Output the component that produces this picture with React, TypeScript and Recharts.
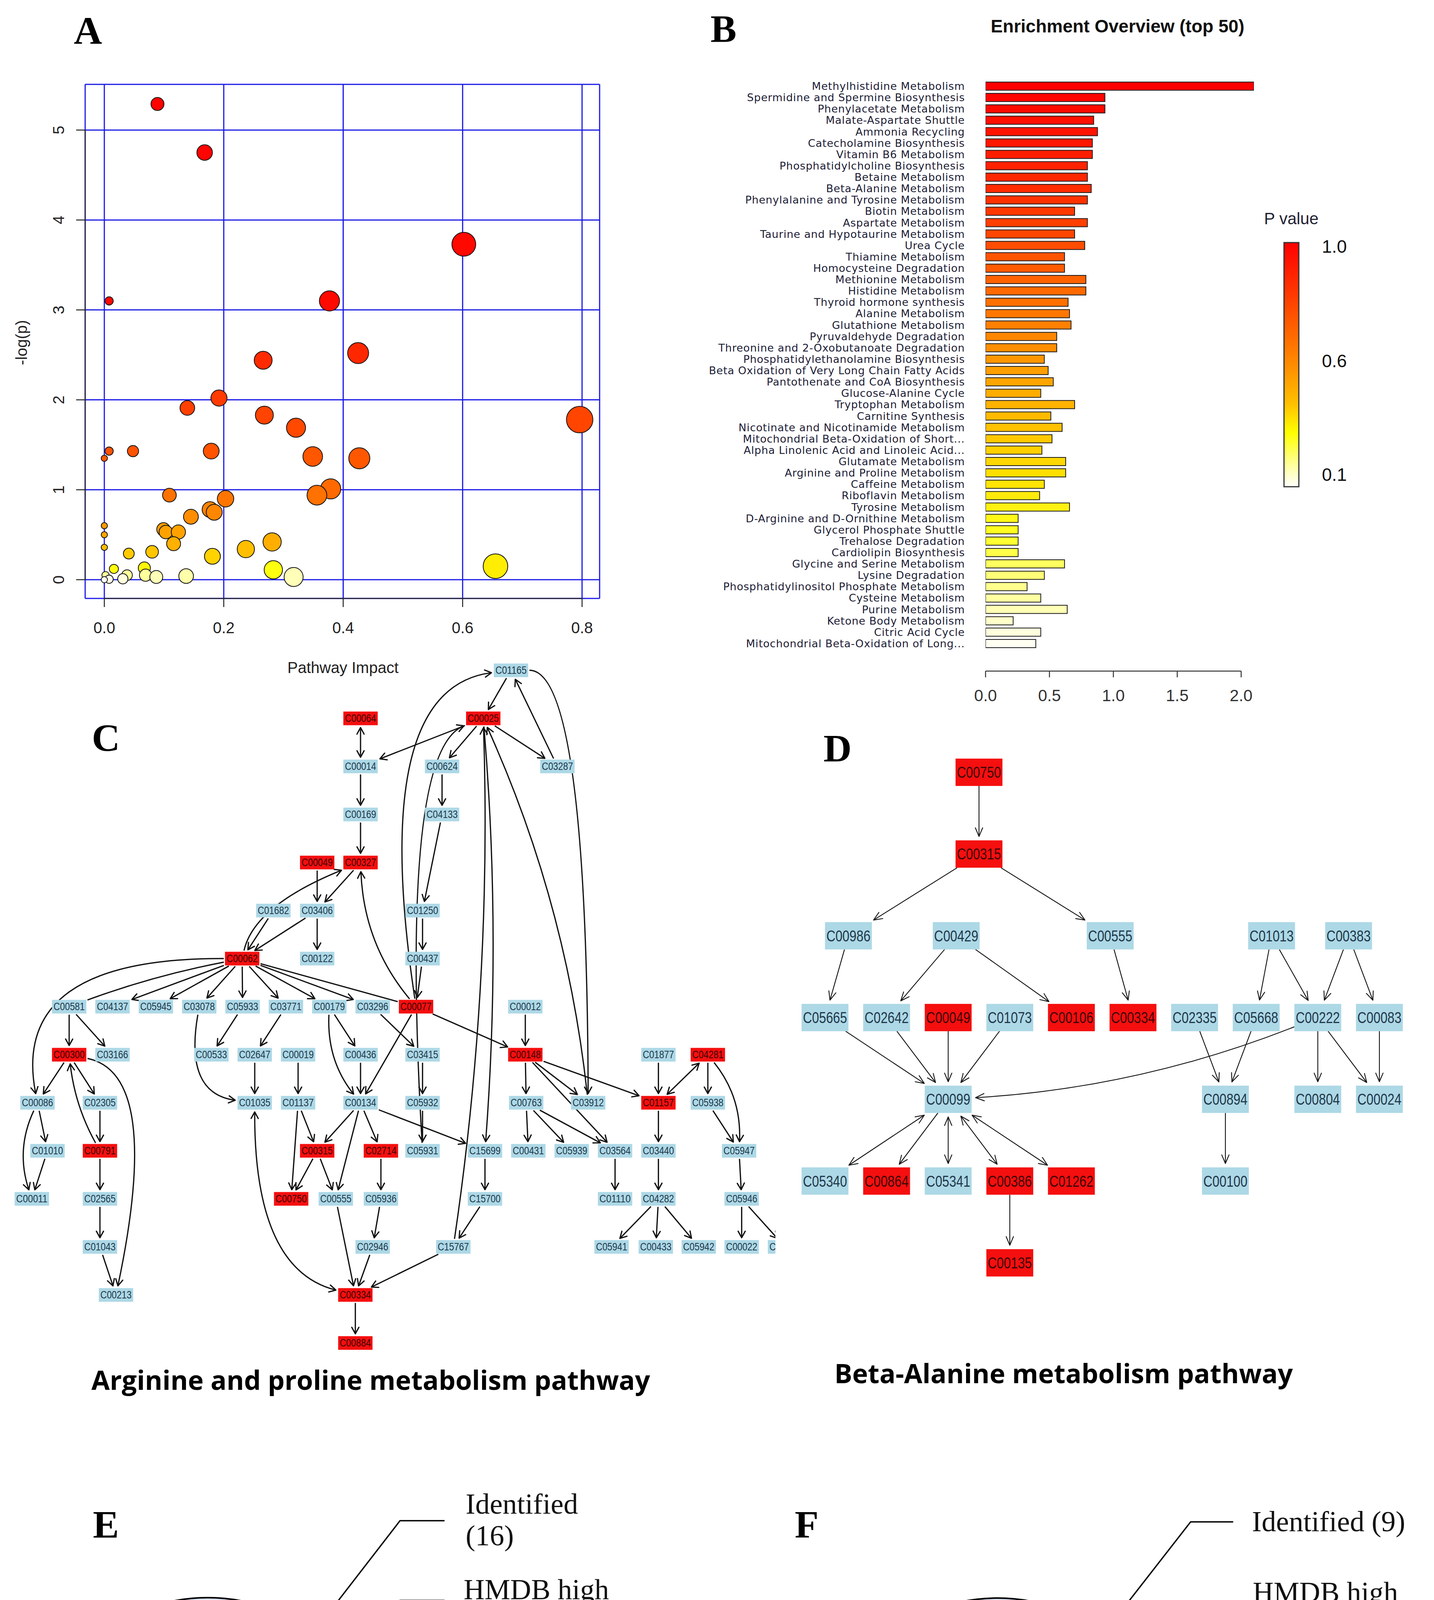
import React from 'react';
import {
  ScatterChart,
  Scatter,
  XAxis,
  YAxis,
  CartesianGrid,
  Cell,
  ReferenceLine,
  BarChart,
  Bar,
  PieChart,
  Pie,
} from 'recharts';

const SANS = '"Liberation Sans", Arial, Helvetica, sans-serif';
const SERIF = '"Liberation Serif", "Times New Roman", serif';
const TITLE = '"Open Sans", "DejaVu Sans", sans-serif';

// ---------- A: pathway impact vs -log(p)
const impact = [0.089, 0.168, 0.602, 0.008, 0.377, 0.266, 0.425, 0.192, 0.139, 0.268,
  0.321, 0.796, 0.008, 0.048, 0.0, 0.179, 0.349, 0.427, 0.379, 0.356,
  0.109, 0.203, 0.177, 0.184, 0.145, 0.099, 0.103, 0.124, 0.116, 0.0,
  0.0, 0.0, 0.281, 0.237, 0.181, 0.041, 0.08, 0.655, 0.283, 0.317,
  0.137, 0.067, 0.069, 0.087, 0.016, 0.038, 0.031, 0.002, 0.008, 0.0];
const logP = [5.29, 4.75, 3.73, 3.1, 3.1, 2.44, 2.52, 2.02, 1.91, 1.83,
  1.69, 1.78, 1.43, 1.43, 1.35, 1.43, 1.37, 1.35, 1.01, 0.94,
  0.94, 0.9, 0.78, 0.75, 0.7, 0.56, 0.53, 0.53, 0.4, 0.6,
  0.5, 0.36, 0.42, 0.34, 0.26, 0.29, 0.31, 0.15, 0.11, 0.03,
  0.04, 0.13, 0.05, 0.03, 0.12, 0.05, 0.01, 0.05, 0.005, 0.0];
const impactTicks = [0, 0.2, 0.4, 0.6, 0.8];
const logPTicks = [0, 1, 2, 3, 4, 5];

// ---------- B: enrichment overview
const pathways = [
  'Methylhistidine Metabolism',
  'Spermidine and Spermine Biosynthesis',
  'Phenylacetate Metabolism',
  'Malate-Aspartate Shuttle',
  'Ammonia Recycling',
  'Catecholamine Biosynthesis',
  'Vitamin B6 Metabolism',
  'Phosphatidylcholine Biosynthesis',
  'Betaine Metabolism',
  'Beta-Alanine Metabolism',
  'Phenylalanine and Tyrosine Metabolism',
  'Biotin Metabolism',
  'Aspartate Metabolism',
  'Taurine and Hypotaurine Metabolism',
  'Urea Cycle',
  'Thiamine Metabolism',
  'Homocysteine Degradation',
  'Methionine Metabolism',
  'Histidine Metabolism',
  'Thyroid hormone synthesis',
  'Alanine Metabolism',
  'Glutathione Metabolism',
  'Pyruvaldehyde Degradation',
  'Threonine and 2-Oxobutanoate Degradation',
  'Phosphatidylethanolamine Biosynthesis',
  'Beta Oxidation of Very Long Chain Fatty Acids',
  'Pantothenate and CoA Biosynthesis',
  'Glucose-Alanine Cycle',
  'Tryptophan Metabolism',
  'Carnitine Synthesis',
  'Nicotinate and Nicotinamide Metabolism',
  'Mitochondrial Beta-Oxidation of Short...',
  'Alpha Linolenic Acid and Linoleic Acid...',
  'Glutamate Metabolism',
  'Arginine and Proline Metabolism',
  'Caffeine Metabolism',
  'Riboflavin Metabolism',
  'Tyrosine Metabolism',
  'D-Arginine and D-Ornithine Metabolism',
  'Glycerol Phosphate Shuttle',
  'Trehalose Degradation',
  'Cardiolipin Biosynthesis',
  'Glycine and Serine Metabolism',
  'Lysine Degradation',
  'Phosphatidylinositol Phosphate Metabolism',
  'Cysteine Metabolism',
  'Purine Metabolism',
  'Ketone Body Metabolism',
  'Citric Acid Cycle',
  'Mitochondrial Beta-Oxidation of Long...',
];
const foldEnrichment = [2.1, 0.934, 0.934, 0.846, 0.876, 0.836, 0.836, 0.797, 0.797, 0.827,
  0.797, 0.697, 0.797, 0.697, 0.776, 0.618, 0.618, 0.785, 0.785, 0.646,
  0.657, 0.669, 0.557, 0.557, 0.46, 0.49, 0.53, 0.432, 0.697, 0.511,
  0.599, 0.52, 0.441, 0.627, 0.627, 0.46, 0.423, 0.657, 0.255, 0.255,
  0.255, 0.255, 0.618, 0.46, 0.325, 0.432, 0.639, 0.216, 0.432, 0.393];
const enrichTicks = [0, 0.5, 1, 1.5, 2];
const pValueTicks = ['1.0', '0.6', '0.1'];

// ---------- C: arginine and proline network  [id, column, level, matched]
const argNodes: [string, number, number, boolean][] = [
  ['C01165', 10.19, 0, false],
  ['C00064', 6.72, 1, true],
  ['C00025', 9.55, 1, true],
  ['C00014', 6.72, 2, false],
  ['C00624', 8.6, 2, false],
  ['C03287', 11.26, 2, false],
  ['C00169', 6.72, 3, false],
  ['C04133', 8.6, 3, false],
  ['C00049', 5.72, 4, true],
  ['C00327', 6.72, 4, true],
  ['C01682', 4.71, 5, false],
  ['C03406', 5.72, 5, false],
  ['C01250', 8.15, 5, false],
  ['C00062', 3.99, 6, true],
  ['C00122', 5.72, 6, false],
  ['C00437', 8.15, 6, false],
  ['C00581', 0, 7, false],
  ['C04137', 1, 7, false],
  ['C05945', 2, 7, false],
  ['C03078', 3, 7, false],
  ['C05933', 4, 7, false],
  ['C03771', 5, 7, false],
  ['C00179', 6, 7, false],
  ['C03296', 7, 7, false],
  ['C00077', 8, 7, true],
  ['C00012', 10.52, 7, false],
  ['C00300', 0, 8, true],
  ['C03166', 1, 8, false],
  ['C00533', 3.28, 8, false],
  ['C02647', 4.28, 8, false],
  ['C00019', 5.28, 8, false],
  ['C00436', 6.72, 8, false],
  ['C03415', 8.15, 8, false],
  ['C00148', 10.52, 8, true],
  ['C01877', 13.59, 8, false],
  ['C04281', 14.73, 8, true],
  ['C00086', -0.73, 9, false],
  ['C02305', 0.71, 9, false],
  ['C01035', 4.28, 9, false],
  ['C01137', 5.28, 9, false],
  ['C00134', 6.72, 9, false],
  ['C05932', 8.15, 9, false],
  ['C00763', 10.54, 9, false],
  ['C03912', 11.97, 9, false],
  ['C01157', 13.59, 9, true],
  ['C05938', 14.73, 9, false],
  ['C01010', -0.5, 10, false],
  ['C00791', 0.71, 10, true],
  ['C00315', 5.72, 10, true],
  ['C02714', 7.19, 10, true],
  ['C05931', 8.15, 10, false],
  ['C15699', 9.59, 10, false],
  ['C00431', 10.59, 10, false],
  ['C05939', 11.59, 10, false],
  ['C03564', 12.59, 10, false],
  ['C03440', 13.59, 10, false],
  ['C05947', 15.45, 10, false],
  ['C00011', -0.86, 11, false],
  ['C02565', 0.71, 11, false],
  ['C00750', 5.12, 11, true],
  ['C00555', 6.15, 11, false],
  ['C05936', 7.19, 11, false],
  ['C15700', 9.59, 11, false],
  ['C01110', 12.59, 11, false],
  ['C04282', 13.59, 11, false],
  ['C05946', 15.51, 11, false],
  ['C01043', 0.71, 12, false],
  ['C02946', 7.0, 12, false],
  ['C15767', 8.86, 12, false],
  ['C05941', 12.51, 12, false],
  ['C00433', 13.53, 12, false],
  ['C05942', 14.52, 12, false],
  ['C00022', 15.51, 12, false],
  ['C05944', 16.51, 12, false],
  ['C00213', 1.08, 13, false],
  ['C00334', 6.6, 13, true],
  ['C00884', 6.6, 14, true],
];

// [from, to, bend, arrows ('>' forward, '<>' both, '-' none), skew]
type EdgeRow = [string, string, number, string, number?];
const argEdges: EdgeRow[] = [
  ['C00064', 'C00014', 0, '<>'],
  ['C00014', 'C00169', 0, '>'],
  ['C00169', 'C00327', 0, '>'],
  ['C00049', 'C03406', 0, '>'],
  ['C00327', 'C03406', 0, '>'],
  ['C00062', 'C00327', -0.22, '>', -0.22],
  ['C01682', 'C00062', 0, '>'],
  ['C03406', 'C00062', 0, '>'],
  ['C03406', 'C00122', 0, '>'],
  ['C00062', 'C00086', 0.54, '>', 0.26],
  ['C00062', 'C00581', 0.04, '-'],
  ['C00062', 'C04137', 0, '>'],
  ['C00062', 'C05945', 0, '>'],
  ['C00062', 'C03078', 0, '>'],
  ['C00062', 'C05933', 0, '>'],
  ['C00062', 'C03771', 0, '>'],
  ['C00062', 'C00179', 0, '>'],
  ['C00062', 'C03296', 0, '>'],
  ['C00062', 'C00077', 0, '-'],
  ['C00581', 'C00300', 0, '>'],
  ['C00581', 'C03166', 0, '>'],
  ['C00300', 'C00086', 0, '>'],
  ['C00300', 'C02305', 0, '>'],
  ['C00791', 'C00300', -0.1, '>'],
  ['C00300', 'C00213', -0.36, '>', -0.35],
  ['C00086', 'C01010', 0, '>'],
  ['C00086', 'C00011', 0.2, '>'],
  ['C01010', 'C00011', 0, '>'],
  ['C02305', 'C00791', 0, '>'],
  ['C00791', 'C02565', 0, '>'],
  ['C02565', 'C01043', 0, '>'],
  ['C01043', 'C00213', 0, '>'],
  ['C05933', 'C00533', 0, '>'],
  ['C03771', 'C02647', 0, '>'],
  ['C03078', 'C01035', 0.51, '>', 0.11],
  ['C02647', 'C01035', 0, '>'],
  ['C00019', 'C01137', 0, '>'],
  ['C00179', 'C00436', 0, '>'],
  ['C00179', 'C00134', 0.19, '>'],
  ['C00436', 'C00134', 0, '>'],
  ['C03296', 'C03415', 0, '>'],
  ['C00077', 'C00134', 0, '>'],
  ['C00077', 'C00327', -0.17, '>'],
  ['C01035', 'C00334', 0.36, '<>', 0.18],
  ['C01137', 'C00315', 0, '>'],
  ['C01137', 'C00750', 0, '>'],
  ['C00134', 'C00315', 0, '>'],
  ['C00134', 'C00555', 0, '>'],
  ['C00134', 'C02714', 0, '>'],
  ['C00134', 'C15699', 0, '>'],
  ['C00315', 'C00750', 0, '>'],
  ['C00315', 'C00555', 0, '>'],
  ['C02714', 'C05936', 0, '>'],
  ['C05936', 'C02946', 0, '>'],
  ['C02946', 'C00334', 0, '>'],
  ['C00555', 'C00334', 0, '>'],
  ['C15767', 'C00334', 0, '>'],
  ['C00334', 'C00884', 0, '>'],
  ['C00025', 'C00014', 0, '>'],
  ['C00025', 'C00624', 0, '>'],
  ['C00025', 'C03287', 0, '>'],
  ['C03287', 'C01165', 0, '>'],
  ['C01165', 'C00025', 0, '>'],
  ['C00624', 'C04133', 0, '>'],
  ['C04133', 'C01250', 0, '>'],
  ['C01250', 'C00437', 0, '>'],
  ['C00437', 'C00077', 0, '>'],
  ['C00077', 'C01165', -0.38, '>', 0.34],
  ['C05931', 'C00025', -0.18, '>', 0.4],
  ['C00025', 'C15699', -0.04, '>'],
  ['C15767', 'C00025', 0.045, '>'],
  ['C03912', 'C00025', 0.08, '>'],
  ['C01165', 'C03912', -0.17, '>', -0.47],
  ['C03415', 'C05932', 0, '>'],
  ['C05932', 'C05931', 0, '>'],
  ['C15699', 'C15700', 0, '>'],
  ['C15700', 'C15767', 0, '>'],
  ['C00077', 'C00148', 0, '>'],
  ['C00012', 'C00148', 0, '>'],
  ['C00148', 'C00763', 0, '>'],
  ['C00148', 'C03912', 0, '>'],
  ['C00148', 'C01157', 0, '>'],
  ['C00148', 'C03564', 0, '>'],
  ['C00763', 'C03564', 0, '>'],
  ['C00763', 'C00431', 0, '>'],
  ['C00763', 'C05939', 0, '>'],
  ['C03564', 'C01110', 0, '>'],
  ['C01877', 'C01157', 0, '>'],
  ['C04281', 'C01157', 0, '<>'],
  ['C04281', 'C05938', 0, '>'],
  ['C04281', 'C05947', -0.19, '>'],
  ['C05938', 'C05947', 0, '>'],
  ['C01157', 'C03440', 0, '>'],
  ['C03440', 'C04282', 0, '>'],
  ['C04282', 'C05941', 0, '>'],
  ['C04282', 'C00433', 0, '>'],
  ['C04282', 'C05942', 0, '>'],
  ['C05947', 'C05946', 0, '>'],
  ['C05946', 'C00022', 0, '>'],
  ['C05946', 'C05944', 0, '>'],
];

// ---------- D: beta-alanine network
const alaNodes: [string, number, number, boolean][] = [
  ['C00750', 2.5, 0, true],
  ['C00315', 2.5, 1, true],
  ['C00986', 0.38, 2, false],
  ['C00429', 2.13, 2, false],
  ['C00555', 4.63, 2, false],
  ['C01013', 7.25, 2, false],
  ['C00383', 8.5, 2, false],
  ['C05665', 0, 3, false],
  ['C02642', 1, 3, false],
  ['C00049', 2, 3, true],
  ['C01073', 3, 3, false],
  ['C00106', 4, 3, true],
  ['C00334', 5, 3, true],
  ['C02335', 6, 3, false],
  ['C05668', 7, 3, false],
  ['C00222', 8, 3, false],
  ['C00083', 9, 3, false],
  ['C00099', 2, 4, false],
  ['C00894', 6.5, 4, false],
  ['C00804', 8, 4, false],
  ['C00024', 9, 4, false],
  ['C05340', 0, 5, false],
  ['C00864', 1, 5, true],
  ['C05341', 2, 5, false],
  ['C00386', 3, 5, true],
  ['C01262', 4, 5, true],
  ['C00100', 6.5, 5, false],
  ['C00135', 3, 6, true],
];

const alaEdges: EdgeRow[] = [
  ['C00750', 'C00315', 0, '>'],
  ['C00315', 'C00986', 0, '>'],
  ['C00315', 'C00555', 0, '>'],
  ['C00986', 'C05665', 0, '>'],
  ['C00429', 'C02642', 0, '>'],
  ['C00429', 'C00106', 0, '>'],
  ['C00555', 'C00334', 0, '>'],
  ['C01013', 'C05668', 0, '>'],
  ['C01013', 'C00222', 0, '>'],
  ['C00383', 'C00222', 0, '>'],
  ['C00383', 'C00083', 0, '>'],
  ['C05665', 'C00099', 0, '>'],
  ['C02642', 'C00099', 0, '>'],
  ['C00049', 'C00099', 0, '>'],
  ['C01073', 'C00099', 0, '>'],
  ['C00222', 'C00099', -0.08, '>'],
  ['C02335', 'C00894', 0, '>'],
  ['C05668', 'C00894', 0, '>'],
  ['C00222', 'C00804', 0, '>'],
  ['C00222', 'C00024', 0, '>'],
  ['C00083', 'C00024', 0, '>'],
  ['C00894', 'C00100', 0, '>'],
  ['C00099', 'C05340', 0, '<>'],
  ['C00099', 'C00864', 0, '>'],
  ['C00099', 'C05341', 0, '<>'],
  ['C00099', 'C00386', 0, '<>'],
  ['C00099', 'C01262', 0, '<>'],
  ['C00386', 'C00135', 0, '>'],
];

// ---------- E / F: nested metabolite sets
const ringNames = ['KEGG pathway', 'High &low HMDB', 'HMDB high', 'Identified'];
const argCounts = [77, 71, 25, 16];
const alaCounts = [29, 25, 15, 9];

// ---------- colour helpers
const hexRgb = (h: string) => [1, 3, 5].map((k) => parseInt(h.slice(k, k + 2), 16));
const ramp = (stops: [number, string][], v: number) => {
  if (v <= stops[0][0]) return stops[0][1];
  for (let i = 1; i < stops.length; i++) {
    if (v <= stops[i][0]) {
      const t = (v - stops[i - 1][0]) / (stops[i][0] - stops[i - 1][0]);
      const a = hexRgb(stops[i - 1][1]);
      const b = hexRgb(stops[i][1]);
      return `rgb(${a.map((c, k) => Math.round(c + (b[k] - c) * t)).join(',')})`;
    }
  }
  return stops[stops.length - 1][1];
};
const heatByLogP: [number, string][] = [
  [0, '#fffff2'], [0.03, '#ffffb8'], [0.07, '#ffff80'], [0.11, '#ffff10'], [0.16, '#ffe800'],
  [0.27, '#ffd000'], [0.4, '#ffb000'], [0.6, '#ff9a00'], [0.8, '#ff8000'], [1.0, '#ff6a00'],
  [1.4, '#ff5400'], [1.9, '#ff4000'], [2.5, '#ff2800'], [3.1, '#ff0a00'], [6, '#ff0000'],
];
const heatByRank: [number, string][] = [
  [0, '#ff0000'], [0.2, '#ff3000'], [0.4, '#ff7400'], [0.5, '#ff9a00'], [0.6, '#ffbd00'],
  [0.7, '#ffe000'], [0.8, '#ffff20'], [0.9, '#ffff90'], [1, '#fffff2'],
];

// ---------- panel A
const A_X: [number, number] = [-0.0321, 0.8294];
const A_Y: [number, number] = [-0.2085, 5.508];

const ImpactTick = ({ x, y, payload }: any) => (
  <g>
    <line x1={x} y1={y} x2={x} y2={y + 22} stroke="#222" strokeWidth={2.5} />
    <text x={x} y={y + 75} textAnchor="middle" dominantBaseline="central" fontFamily={SANS} fontSize={40} fill="#222">
      {payload.value.toFixed(1)}
    </text>
  </g>
);

const LogPTick = ({ x, y, payload }: any) => (
  <g>
    <line x1={x} y1={y} x2={x - 23} y2={y} stroke="#222" strokeWidth={2.5} />
    <text
      x={x - 68}
      y={y}
      transform={`rotate(-90 ${x - 68} ${y})`}
      textAnchor="middle"
      dominantBaseline="central"
      fontFamily={SANS}
      fontSize={40}
      fill="#222"
    >
      {payload.value}
    </text>
  </g>
);

const bubble = (p: any) => (
  <circle
    cx={p.cx}
    cy={p.cy}
    r={8 + 29 * Math.sqrt(p.payload.impact)}
    fill={ramp(heatByLogP, p.payload.logp)}
    stroke="#111"
    strokeWidth={2}
  />
);

function PanelA() {
  const data = impact.map((v, i) => ({ impact: v, logp: logP[i] }));
  return (
    <ScatterChart width={1600} height={1780} margin={{ top: 216, right: 65, bottom: 48, left: 68 }}>
      <CartesianGrid stroke="#1a1ae8" strokeWidth={3} />
      <XAxis
        type="number"
        dataKey="impact"
        domain={A_X}
        ticks={impactTicks}
        interval={0}
        allowDataOverflow
        axisLine={false}
        tickLine={false}
        tickSize={0}
        tickMargin={0}
        height={200}
        tick={<ImpactTick />}
      />
      <YAxis
        type="number"
        dataKey="logp"
        domain={A_Y}
        ticks={logPTicks}
        interval={0}
        allowDataOverflow
        axisLine={false}
        tickLine={false}
        tickSize={0}
        tickMargin={0}
        width={150}
        tick={<LogPTick />}
      />
      <ReferenceLine segment={[{ x: 0, y: A_Y[0] }, { x: 0.8, y: A_Y[0] }]} stroke="#222" strokeWidth={2.5} ifOverflow="visible" />
      <ReferenceLine segment={[{ x: A_X[0], y: 0 }, { x: A_X[0], y: 5 }]} stroke="#222" strokeWidth={2.5} ifOverflow="visible" />
      <Scatter data={data} shape={bubble} isAnimationActive={false} />
    </ScatterChart>
  );
}

// ---------- panel B
const B_MAX = 2.1;
const B_PLOT_W = 687;

const EnrichTick = ({ x, y, payload }: any) => {
  const step = (0.5 / B_MAX) * B_PLOT_W;
  return (
    <g>
      {payload.value < 2 && <line x1={x} y1={y} x2={x + step} y2={y} stroke="#333" strokeWidth={2.5} />}
      <line x1={x} y1={y} x2={x} y2={y + 16} stroke="#333" strokeWidth={2.5} />
      <text x={x} y={y + 62} textAnchor="middle" dominantBaseline="central" fontFamily={SANS} fontSize={42} fill="#333">
        {payload.value.toFixed(1)}
      </text>
    </g>
  );
};

const PathwayTick = ({ x, y, payload }: any) => (
  <text
    x={x - 53}
    y={y}
    textAnchor="end"
    dominantBaseline="central"
    fontFamily='"DejaVu Sans", sans-serif'
    fontSize={27}
    letterSpacing={0.8}
    fill="#1d2036"
  >
    {payload.value}
  </text>
);

function PanelB() {
  const data = pathways.map((name, i) => ({ name, ratio: foldEnrichment[i] }));
  return (
    <BarChart
      layout="vertical"
      width={1971}
      height={1850}
      data={data}
      barSize={21}
      margin={{ top: 206, right: 461, bottom: 32, left: 0 }}
    >
      <XAxis
        type="number"
        domain={[0, B_MAX]}
        ticks={enrichTicks}
        interval={0}
        allowDataOverflow
        axisLine={false}
        tickLine={false}
        tickSize={0}
        tickMargin={0}
        height={100}
        tick={<EnrichTick />}
      />
      <YAxis
        type="category"
        dataKey="name"
        width={823}
        interval={0}
        axisLine={false}
        tickLine={false}
        tickSize={0}
        tickMargin={0}
        padding={{ top: 0, bottom: 56 }}
        tick={<PathwayTick />}
      />
      <Bar dataKey="ratio" stroke="#1a1a1a" strokeWidth={2} isAnimationActive={false}>
        {data.map((d, i) => (
          <Cell key={d.name} fill={ramp(heatByRank, i / (data.length - 1))} />
        ))}
      </Bar>
    </BarChart>
  );
}

// ---------- panels C / D (networks)
type NetStyle = {
  w: number; h: number; font: number; textLen: number;
  line: number; head: number; spread: number; gapStart: number; gapEnd: number;
};

const RED = '#f50f0f';
const BLUE = '#add8e6';

const unit = (ax: number, ay: number) => {
  const l = Math.hypot(ax, ay) || 1;
  return [ax / l, ay / l];
};

const edgeShape = (bend: number, mode: string, skew: number, st: NetStyle) => (p: any) => {
  const { x1, y1, x2, y2 } = p;
  const len = Math.hypot(x2 - x1, y2 - y1) || 1;
  const ux = (x2 - x1) / len;
  const uy = (y2 - y1) / len;
  const curved = bend !== 0 || skew !== 0;
  const cx = (x1 + x2) / 2 - uy * bend * len + ux * skew * len;
  const cy = (y1 + y2) / 2 + ux * bend * len + uy * skew * len;
  const exit = (d: number[]) =>
    Math.min(
      Math.abs(d[0]) > 1e-6 ? st.w / 2 / Math.abs(d[0]) : 1e9,
      Math.abs(d[1]) > 1e-6 ? st.h / 2 / Math.abs(d[1]) : 1e9,
    );
  const ds = curved ? unit(cx - x1, cy - y1) : [ux, uy];
  const de = curved ? unit(cx - x2, cy - y2) : [-ux, -uy];
  const gs = mode === '<>' ? st.gapEnd : st.gapStart;
  const ge = mode === '-' ? st.gapStart : st.gapEnd;
  const sx = x1 + ds[0] * (exit(ds) + gs);
  const sy = y1 + ds[1] * (exit(ds) + gs);
  const ex = x2 + de[0] * (exit(de) + ge);
  const ey = y2 + de[1] * (exit(de) + ge);
  const path = curved ? `M${sx},${sy}Q${cx},${cy} ${ex},${ey}` : `M${sx},${sy}L${ex},${ey}`;
  const head = (px: number, py: number, b: number[]) => {
    const c = Math.cos(st.spread);
    const s = Math.sin(st.spread);
    const w1x = px + (b[0] * c - b[1] * s) * st.head;
    const w1y = py + (b[0] * s + b[1] * c) * st.head;
    const w2x = px + (b[0] * c + b[1] * s) * st.head;
    const w2y = py + (-b[0] * s + b[1] * c) * st.head;
    return `M${w1x},${w1y}L${px},${py}L${w2x},${w2y}`;
  };
  const backEnd = curved ? unit(cx - ex, cy - ey) : [-ux, -uy];
  const backStart = curved ? unit(cx - sx, cy - sy) : [ux, uy];
  let heads = '';
  if (mode !== '-') heads += head(ex, ey, backEnd);
  if (mode === '<>') heads += head(sx, sy, backStart);
  return (
    <g>
      <path d={path} fill="none" stroke="#111" strokeWidth={st.line} />
      {heads && (
        <path d={heads} fill="none" stroke="#111" strokeWidth={st.line} strokeLinecap="round" strokeLinejoin="round" />
      )}
    </g>
  );
};

const nodeShape = (st: NetStyle) => (p: any) => {
  const { cx, cy, payload } = p;
  return (
    <g>
      <rect x={cx - st.w / 2} y={cy - st.h / 2} width={st.w} height={st.h} fill={payload.hit ? RED : BLUE} />
      <text
        x={cx}
        y={cy}
        textAnchor="middle"
        dominantBaseline="central"
        fontFamily={SANS}
        fontSize={st.font}
        textLength={st.textLen}
        lengthAdjust="spacingAndGlyphs"
        fill={payload.hit ? '#3a0505' : '#21384a'}
      >
        {payload.id}
      </text>
    </g>
  );
};

function NetworkPanel({ nodes, edges, width, height, xDomain, yDomain, st }: any) {
  const data = nodes.map(([id, col, level, hit]: any) => ({ id, col, level, hit }));
  const pos: Record<string, any> = {};
  data.forEach((d: any) => {
    pos[d.id] = d;
  });
  return (
    <ScatterChart width={width} height={height} margin={{ top: 0, right: 0, bottom: 0, left: 0 }}>
      <XAxis type="number" dataKey="col" domain={xDomain} allowDataOverflow hide />
      <YAxis type="number" dataKey="level" domain={yDomain} allowDataOverflow reversed hide />
      {edges.map(([a, b, bend, mode, skew]: any, i: number) => (
        <ReferenceLine
          key={`${a}-${b}-${i}`}
          segment={[{ x: pos[a].col, y: pos[a].level }, { x: pos[b].col, y: pos[b].level }]}
          ifOverflow="visible"
          shape={edgeShape(bend, mode, skew || 0, st)}
        />
      ))}
      <Scatter data={data} shape={nodeShape(st)} isAnimationActive={false} />
    </ScatterChart>
  );
}

const argStyle: NetStyle = { w: 88, h: 35, font: 27, textLen: 80, line: 3.2, head: 19, spread: 0.5, gapStart: 3, gapEnd: 6 };
const alaStyle: NetStyle = { w: 120, h: 70, font: 40, textLen: 113, line: 2.2, head: 24, spread: 0.4, gapStart: 0, gapEnd: 10 };

// ---------- panels E / F (nested circles)
const ringRadius = [455, 327, 196, 66];
const ringFill = ['#dae3f3', '#96b4dd', '#7da5d4', '#7da5d4'];

type RingLayout = { lead: number[][]; text: { dx: number; dy: number; mid?: boolean }[]; mode: string };

const argLayout: RingLayout[] = [
  { lead: [[368, 159], [487, 3], [601, 3]], text: [{ dx: 601, dy: -52 }, { dx: 853, dy: 52, mid: true }], mode: 'two' },
  { lead: [[227, 92], [492, -229], [606, -229]], text: [{ dx: 650, dy: -257 }, { dx: 650, dy: -178 }], mode: 'wrap' },
  { lead: [[135, 45], [492, -448], [606, -448]], text: [{ dx: 655, dy: -476 }, { dx: 843, dy: -395, mid: true }], mode: 'two' },
  { lead: [[-4, -10], [492, -652], [606, -652]], text: [{ dx: 660, dy: -695 }, { dx: 660, dy: -614 }], mode: 'two' },
];
const alaLayout: RingLayout[] = [
  { lead: [[368, 164], [489, 7], [599, 7]], text: [{ dx: 604, dy: -44 }, { dx: 851, dy: 61, mid: true }], mode: 'two' },
  { lead: [[228, 96], [495, -225], [604, -225]], text: [{ dx: 652, dy: -253 }, { dx: 652, dy: -172 }], mode: 'wrap' },
  { lead: [[135, 48], [495, -444], [604, -444]], text: [{ dx: 654, dy: -470 }, { dx: 844, dy: -390, mid: true }], mode: 'two' },
  { lead: [[-7, -6], [495, -650], [604, -650]], text: [{ dx: 652, dy: -651 }], mode: 'one' },
];

const ringLines = (name: string, count: number, mode: string) => {
  if (mode === 'one') return [`${name} (${count})`];
  if (mode === 'wrap') {
    const words = name.split(' ');
    const last = words.pop();
    return [words.join(' '), `${last} (${count})`];
  }
  return [name, `(${count})`];
};

const ringLabel = (r: number, lay: RingLayout, lines: string[]) => (p: any) => {
  const { cx, cy } = p;
  return (
    <g>
      <circle cx={cx} cy={cy} r={r} fill="none" stroke="#000" strokeWidth={4} />
      <polyline
        points={lay.lead.map(([x, y]) => `${cx + x},${cy + y}`).join(' ')}
        fill="none"
        stroke="#000"
        strokeWidth={3.5}
      />
      {lines.map((t, k) => (
        <text
          key={k}
          x={cx + lay.text[k].dx}
          y={cy + lay.text[k].dy}
          textAnchor={lay.text[k].mid ? 'middle' : 'start'}
          dominantBaseline="central"
          fontFamily={SERIF}
          fontSize={74}
          fill="#111"
        >
          {t}
        </text>
      ))}
    </g>
  );
};

function RingPanel({ counts, layout, width, height, cx, cy }: any) {
  return (
    <PieChart width={width} height={height} margin={{ top: 0, right: 0, bottom: 0, left: 0 }}>
      {ringNames.map((name, i) => (
        <Pie
          key={name}
          data={[{ name, value: counts[i] }]}
          dataKey="value"
          nameKey="name"
          cx={cx}
          cy={cy}
          innerRadius={0}
          outerRadius={ringRadius[i]}
          startAngle={90}
          endAngle={-270}
          fill={ringFill[i]}
          stroke="none"
          labelLine={false}
          label={ringLabel(ringRadius[i], layout[i], ringLines(name, counts[i], layout[i].mode))}
          isAnimationActive={false}
        />
      ))}
    </PieChart>
  );
}

// ---------- static annotations (panel letters, titles, colour key)
function Annotations() {
  const letters: [string, number, number][] = [
    ['A', 225, 78], ['B', 1852, 73], ['C', 271, 1888], ['D', 2144, 1915], ['E', 271, 3902], ['F', 2065, 3902],
  ];
  const tickY = [631, 924, 1215];
  return (
    <svg width={3671} height={5243} style={{ position: 'absolute', left: 0, top: 0, pointerEvents: 'none' }}>
      <defs>
        <linearGradient id="pgrad" x1="0" y1="0" x2="0" y2="1">
          <stop offset="0" stopColor="#ff0000" />
          <stop offset="0.22" stopColor="#ff3c00" />
          <stop offset="0.5" stopColor="#ff8c00" />
          <stop offset="0.66" stopColor="#ffc000" />
          <stop offset="0.78" stopColor="#ffff00" />
          <stop offset="0.9" stopColor="#ffff90" />
          <stop offset="1" stopColor="#ffffff" />
        </linearGradient>
      </defs>
      {letters.map(([t, x, y]) => (
        <text key={t} x={x} y={y} textAnchor="middle" dominantBaseline="central" fontFamily={SERIF} fontWeight={700} fontSize={100} fill="#000">
          {t}
        </text>
      ))}
      <text x={55} y={877} transform="rotate(-90 55 877)" textAnchor="middle" dominantBaseline="central" fontFamily={SANS} fontSize={40} fill="#222">
        -log(p)
      </text>
      <text x={878} y={1709} textAnchor="middle" dominantBaseline="central" fontFamily={SANS} fontSize={40} fill="#222">
        Pathway Impact
      </text>
      <text x={2861} y={67} textAnchor="middle" dominantBaseline="central" fontFamily={SANS} fontWeight={700} fontSize={46} fill="#111">
        Enrichment Overview (top 50)
      </text>
      <text x={3236} y={559} dominantBaseline="central" fontFamily={SANS} fontSize={42} fill="#223">
        P value
      </text>
      <rect x={3287} y={621} width={38} height={625} fill="url(#pgrad)" stroke="#333" strokeWidth={3} />
      {pValueTicks.map((t, i) => (
        <text key={t} x={3384} y={tickY[i]} dominantBaseline="central" fontFamily={SANS} fontSize={46} fill="#111">
          {t}
        </text>
      ))}
      <text x={234} y={3531} dominantBaseline="central" fontFamily={TITLE} fontWeight={700} fontSize={68} fill="#000">
        Arginine and proline metabolism pathway
      </text>
      <text x={2136} y={3514} dominantBaseline="central" fontFamily={TITLE} fontWeight={700} fontSize={68} fill="#000">
        Beta-Alanine metabolism pathway
      </text>
      <text x={190} y={5133} dominantBaseline="central" fontFamily={TITLE} fontWeight={700} fontSize={68} fill="#000">
        Arginine and proline metabolism pathway
      </text>
      <text x={2148} y={5165} dominantBaseline="central" fontFamily={TITLE} fontWeight={700} fontSize={68} fill="#000">
        Beta-Alanine metabolism pathway
      </text>
    </svg>
  );
}

const at = (left: number, top: number): React.CSSProperties => ({ position: 'absolute', left, top });

export default function App() {
  return (
    <div style={{ position: 'absolute', left: 0, top: 0, width: 3671, height: 5243, background: '#fff', overflow: 'hidden' }}>
      <div style={at(0, 0)}>
        <PanelA />
      </div>
      <div style={at(1700, 0)}>
        <PanelB />
      </div>
      <div style={at(0, 1650)}>
        <NetworkPanel
          nodes={argNodes}
          edges={argEdges}
          width={1985}
          height={1830}
          xDomain={[-1.595, 16.288]}
          yDomain={[-0.537, 14.341]}
          st={argStyle}
        />
      </div>
      <div style={at(2000, 1900)}>
        <NetworkPanel
          nodes={alaNodes}
          edges={alaEdges}
          width={1620}
          height={1400}
          xDomain={[-0.71, 9.563]}
          yDomain={[-0.368, 6.321]}
          st={alaStyle}
        />
      </div>
      <div style={at(0, 3750)}>
        <RingPanel counts={argCounts} layout={argLayout} width={1800} height={1350} cx={532} cy={795} />
      </div>
      <div style={at(1950, 3750)}>
        <RingPanel counts={alaCounts} layout={alaLayout} width={1721} height={1350} cx={603} cy={796} />
      </div>
      <Annotations />
    </div>
  );
}
